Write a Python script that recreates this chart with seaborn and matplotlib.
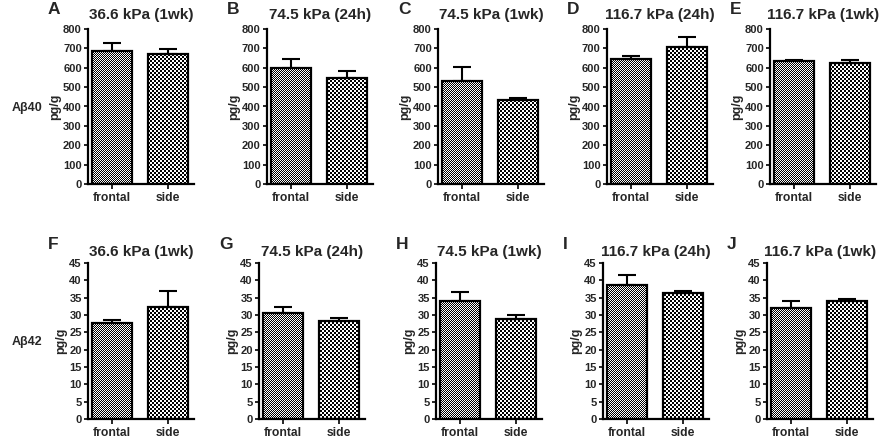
import numpy as np
import seaborn as sns
import matplotlib.pyplot as plt

# values (mean, upper error)
regions = ["frontal", "side"]
letters = list("ABCDEFGHIJ")
titles = ["36.6 kPa (1wk)", "74.5 kPa (24h)", "74.5 kPa (1wk)",
          "116.7 kPa (24h)", "116.7 kPa (1wk)"]
row_labels = ["A\u03b240", "A\u03b242"]

ab40_mean = [[685, 672], [597, 545], [533, 435], [645, 707], [635, 623]]
ab40_err = [[42, 25], [46, 37], [72, 8], [17, 50], [6, 18]]
ab42_mean = [[27.6, 32.3], [30.6, 28.3], [34.0, 28.8], [38.6, 36.3], [31.9, 34.1]]
ab42_err = [[1.0, 4.7], [1.6, 0.9], [2.6, 1.1], [2.8, 0.7], [2.1, 0.5]]

ab40_ticks = np.arange(0, 801, 100)
ab42_ticks = np.arange(0, 46, 5)

sns.set_style("ticks")
plt.rcParams["font.family"] = ["Liberation Sans", "DejaVu Sans"]
plt.rcParams["font.weight"] = "bold"

W, H = 886, 440
fig = plt.figure(figsize=(W / 100, H / 100), dpi=100)

# axes placement in pixels: lefts, top, bottom
rows = [
    dict(lefts=[88, 267, 438, 607, 770], top=29, bottom=184,
         means=ab40_mean, errs=ab40_err, ticks=ab40_ticks, pad=7),
    dict(lefts=[88, 259, 436, 603, 767], top=263, bottom=419,
         means=ab42_mean, errs=ab42_err, ticks=ab42_ticks, pad=5),
]
AW = 106


def checker(h, w, sq):
    yy, xx = np.mgrid[0:h, 0:w]
    v = ((xx // sq + yy // sq) % 2).astype(float)
    return np.dstack([v, v, v])


# pixel-exact checker textures (fine for frontal, coarse for side)
textures = [checker(H, W, 1), checker(H, W, 2)]

for r, row in enumerate(rows):
    for i, left in enumerate(row["lefts"]):
        ah = row["bottom"] - row["top"]
        ax = fig.add_axes([left / W, (H - row["bottom"]) / H, AW / W, ah / H])
        ax.patch.set_visible(False)
        means = row["means"][i]
        errs = row["errs"][i]
        sns.barplot(x=regions, y=means, ax=ax, width=0.71, facecolor="none",
                    edgecolor="black", linewidth=1.6, errorbar=None, zorder=3)
        ax.errorbar(range(len(regions)), means, yerr=[[0] * len(errs), errs],
                    fmt="none", ecolor="black", elinewidth=1.5, capsize=6.5,
                    capthick=1.5, zorder=4)
        ymax = row["ticks"][-1]
        ax.set_xlim(-0.43, 1.46)
        ax.set_ylim(0, ymax)
        for bar, tex in zip(ax.patches, textures):
            im = fig.figimage(tex, xo=0, yo=0, origin="lower", zorder=-1)
            im.set_clip_path(bar)
        ax.set_yticks(row["ticks"])
        ax.set_ylabel("pg/g", fontsize=9, fontweight="bold", labelpad=1.5)
        ax.set_title(titles[i], fontsize=11, fontweight="bold", pad=row["pad"])
        sns.despine(ax=ax)
        for s in ["left", "bottom"]:
            ax.spines[s].set_linewidth(1.6)
            ax.spines[s].set_color("black")
        ax.tick_params(axis="y", length=3, width=1.4, pad=1.5, labelsize=8)
        ax.tick_params(axis="x", length=3.5, width=1.4, pad=2, labelsize=8.7)
        for lab in ax.get_xticklabels() + ax.get_yticklabels():
            lab.set_fontweight("bold")
        ax.set_xlabel("")
        fig.text((left - 40) / W, 1 - (row["top"] - 19) / H, letters[r * 5 + i],
                 fontsize=12.5, fontweight="bold", ha="left", va="center")
    fig.text(12 / W, 1 - (row["top"] + 79) / H, row_labels[r],
             fontsize=9, fontweight="bold", ha="left", va="center")

fig.savefig("out.png", dpi=100)
